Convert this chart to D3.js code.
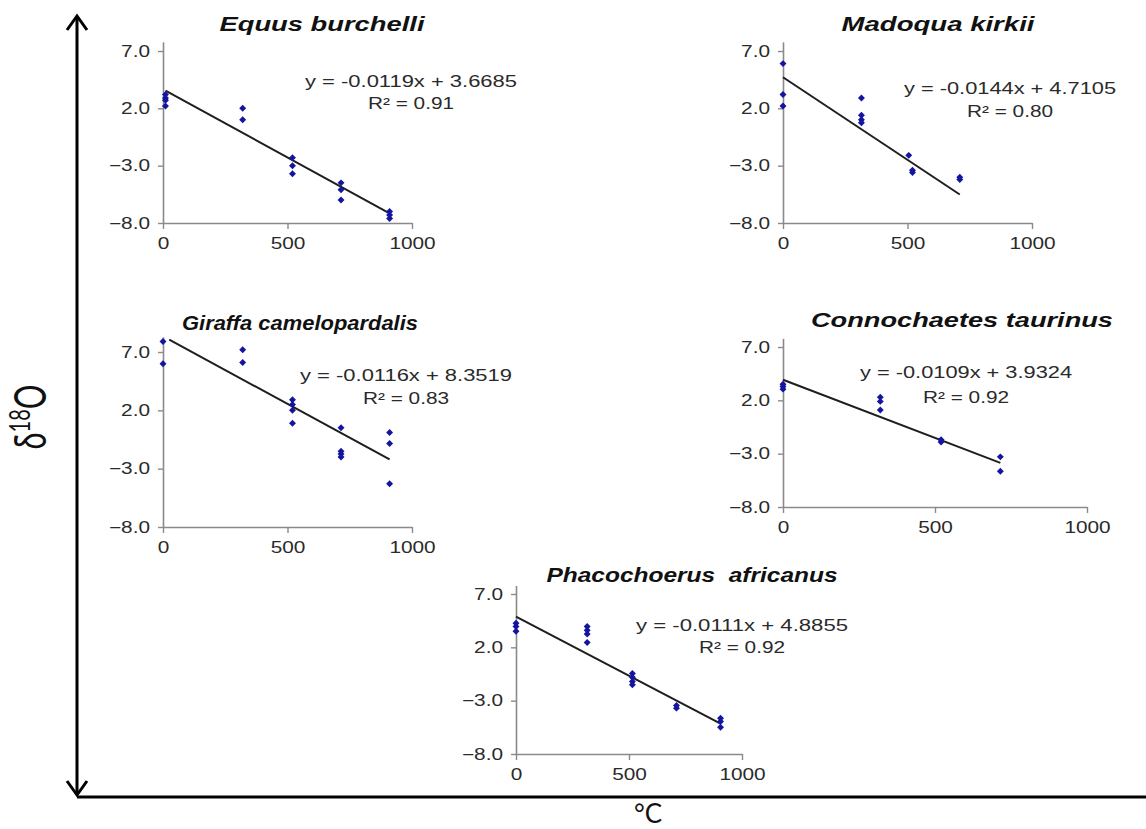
<!DOCTYPE html>
<html>
<head>
<meta charset="utf-8">
<script src="https://cdn.jsdelivr.net/npm/d3@7"></script>
<style>
  html, body { margin: 0; padding: 0; background: #fff; }
  svg { display: block; }
</style>
</head>
<body>
<svg id="chart" width="1146" height="829"></svg>
<script>
// ---------- DATA ----------
const speciesNames = ["Equus burchelli", "Madoqua kirkii", "Giraffa camelopardalis", "Connochaetes taurinus", "Phacochoerus  africanus"];
const xTickValues = [0, 500, 1000];
const yTickValues = [-8, -3, 2, 7];

// [temperature °C, δ18O]
const equusPts = [[10,3.2],[10,2.9],[10,2.7],[10,2.2],[320,2.0],[320,1.0],[520,-2.3],[520,-3.0],[520,-3.7],[715,-4.5],[715,-5.1],[715,-6.0],[910,-7.0],[910,-7.3],[910,-7.6]];
const madoquaPts = [[0,5.9],[0,3.2],[0,2.2],[315,2.9],[315,1.4],[315,1.0],[315,0.75],[505,-2.1],[520,-3.4],[520,-3.6],[710,-4.0],[710,-4.2]];
const giraffaPts = [[0,7.9],[0,6.0],[320,7.2],[320,6.1],[520,2.9],[520,2.5],[520,2.0],[520,0.9],[715,0.5],[715,-1.5],[715,-1.75],[715,-2.0],[910,0.1],[910,-0.85],[910,-4.3]];
const connoPts = [[0,3.5],[0,3.3],[0,3.05],[320,2.3],[320,1.9],[320,1.1],[520,-1.7],[520,-1.9],[715,-3.3],[715,-4.65]];
const phacoPts = [[0,4.25],[0,3.95],[0,3.5],[315,3.95],[315,3.6],[315,3.25],[315,2.45],[515,-0.45],[515,-0.8],[515,-1.2],[515,-1.5],[710,-3.45],[710,-3.7],[905,-4.65],[905,-4.95],[905,-5.5]];

const slopes = [-0.0119, -0.0144, -0.0116, -0.0109, -0.0111];
const intercepts = [3.6685, 4.7105, 8.3519, 3.9324, 4.8855];
const r2Values = ["0.91", "0.80", "0.83", "0.92", "0.92"];
const fitRanges = [[10, 910], [0, 710], [25, 910], [0, 715], [0, 905]];
const yAxisMax = [7.8, 7.8, 8.3, 7.8, 7.8];

const allPts = [equusPts, madoquaPts, giraffaPts, connoPts, phacoPts];

// ---------- LAYOUT ----------
const layout = [
  {x0:163, x1:412, y7:51,  yB:223, tx:322, ty:31,  tw:205, ex:411,  ey1:87,  ey2:109},
  {x0:783, x1:1032,y7:51,  yB:223, tx:938, ty:31,  tw:193, ex:1010, ey1:94,  ey2:117},
  {x0:163, x1:412, y7:352, yB:527, tx:300, ty:330, tw:236, ex:406,  ey1:381, ey2:404},
  {x0:783, x1:1087,y7:347, yB:507, tx:962, ty:327, tw:302, ex:966,  ey1:378, ey2:403},
  {x0:516, x1:742, y7:594, yB:754, tx:692, ty:582, tw:291, ex:742,  ey1:631, ey2:653}
];
const STRETCH = 1.3;
const EQ_WIDTH = 212;
const axisColor = "#8a8a8a";
const markerColor = "#1414a0";
const sansFont = "'Liberation Sans', Arial, sans-serif";

const svg = d3.select("#chart");

speciesNames.forEach((name, i) => {
  const L = layout[i];
  const x = d3.scaleLinear().domain([0, 1000]).range([L.x0, L.x1]);
  const yBase = d3.scaleLinear().domain([-8, 7]).range([L.yB, L.y7]);
  const y = d3.scaleLinear().domain([-8, yAxisMax[i]]).range([L.yB, yBase(yAxisMax[i])]);

  const g = svg.append("g");

  const ya = g.append("g").attr("transform", `translate(${L.x0},0)`)
    .call(d3.axisLeft(y).tickValues(yTickValues).tickFormat(d3.format(".1f")).tickSizeInner(5).tickSizeOuter(0));
  const xa = g.append("g").attr("transform", `translate(0,${L.yB})`)
    .call(d3.axisBottom(x).tickValues(xTickValues).tickFormat(d3.format("d")).tickSizeInner(6).tickSizeOuter(0));

  [ya, xa].forEach(a => {
    a.select(".domain").attr("stroke", axisColor).attr("stroke-width", 1.6);
    a.selectAll(".tick line").attr("stroke", axisColor).attr("stroke-width", 1.4);
    a.selectAll(".tick text")
      .attr("fill", "#2a2a2a")
      .style("font-family", sansFont)
      .style("font-size", "16px");
  });
  ya.selectAll(".tick text").attr("x", -10).attr("transform", `scale(${STRETCH},1)`);
  xa.selectAll(".tick text").attr("y", 15).attr("transform", `scale(${STRETCH},1)`);

  // regression line
  const fr = fitRanges[i];
  const lineData = fr.map(t => [t, slopes[i] * t + intercepts[i]]);
  g.append("path")
    .datum(lineData)
    .attr("d", d3.line().x(d => x(d[0])).y(d => y(d[1])))
    .attr("stroke", "#1e1e1e").attr("stroke-width", 2).attr("fill", "none");

  // points
  const sym = d3.symbol().type(d3.symbolSquare).size(24);
  g.selectAll("path.pt").data(allPts[i]).enter().append("path")
    .attr("class", "pt")
    .attr("d", sym)
    .attr("transform", d => `translate(${x(d[0])},${y(d[1])}) rotate(45)`)
    .attr("fill", markerColor);

  // title
  g.append("text")
    .attr("x", L.tx).attr("y", L.ty)
    .attr("text-anchor", "middle")
    .attr("textLength", L.tw).attr("lengthAdjust", "spacingAndGlyphs")
    .style("font-family", sansFont)
    .style("font-weight", "bold").style("font-style", "italic")
    .style("font-size", "20px").attr("fill", "#111")
    .text(name.replace("  ", "\u00a0\u00a0"));

  // equation
  const eqText = `y = ${slopes[i].toFixed(4)}x + ${intercepts[i].toFixed(4)}`;
  g.append("text")
    .attr("x", L.ex).attr("y", L.ey1)
    .attr("text-anchor", "middle")
    .attr("textLength", EQ_WIDTH).attr("lengthAdjust", "spacingAndGlyphs")
    .style("font-family", sansFont)
    .style("font-size", "16px").attr("fill", "#2a2a2a")
    .text(eqText);
  g.append("text")
    .attr("transform", `translate(${L.ex},${L.ey2}) scale(${STRETCH},1)`)
    .attr("text-anchor", "middle")
    .style("font-family", sansFont)
    .style("font-size", "16px").attr("fill", "#2a2a2a")
    .text(`R\u00b2 = ${r2Values[i]}`);
});

// ---------- BIG AXES ----------
const big = svg.append("g").attr("stroke", "#000").attr("fill", "none")
  .attr("stroke-width", 3).attr("stroke-linecap", "butt").attr("stroke-linejoin", "miter");
big.append("line").attr("x1", 77).attr("y1", 16).attr("x2", 77).attr("y2", 795);
big.append("polyline").attr("points", "67,30 77,16 87,30");
big.append("polyline").attr("points", "67,781 77,795 87,781");
big.append("line").attr("x1", 77).attr("y1", 797).attr("x2", 1146).attr("y2", 797);

// y label δ18O
const yl = svg.append("text")
  .attr("transform", `translate(46,417) scale(1.45,1) rotate(-90)`)
  .attr("text-anchor", "middle")
  .style("font-family", "Lato, 'Open Sans', sans-serif")
  .style("font-size", "31px").attr("fill", "#111");
yl.append("tspan").text("δ");
yl.append("tspan").attr("dy", -11).style("font-size", "20px").text("18");
yl.append("tspan").attr("dy", 11).text("O");

// x label °C
svg.append("text")
  .attr("x", 648).attr("y", 823)
  .attr("text-anchor", "middle")
  .style("font-family", "Lato, 'Open Sans', sans-serif")
  .style("font-size", "26px").attr("fill", "#111")
  .text("°C");
</script>
</body>
</html>
